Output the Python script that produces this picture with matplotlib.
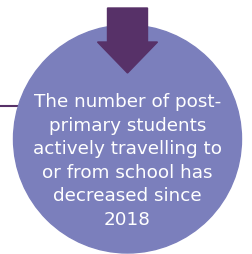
import matplotlib
matplotlib.use("Agg")
import matplotlib.pyplot as plt
from matplotlib.patches import Circle, FancyArrow

# text of the callout
text_lines = ["The number of post-", "primary students", "actively travelling to",
              "or from school has", "decreased since", "2018"]

circle_color = "#7b7fbc"
arrow_color = "#573168"

fig = plt.figure(figsize=(2.52, 2.54), dpi=100)
ax = fig.add_axes([0, 0, 1, 1])
ax.set_xlim(0, 252)
ax.set_ylim(254, 0)
ax.axis("off")

# connector line on the left
ax.plot([0, 30], [106, 106], color=arrow_color, lw=1.5, zorder=1, solid_capstyle="butt")

ax.add_patch(Circle((127.5, 139), 114, color=circle_color, zorder=2))

# down arrow
ax.add_patch(FancyArrow(127.5, 8, 0, 65, width=40, head_width=60, head_length=31,
                        length_includes_head=True, color=arrow_color, zorder=3))

ax.text(127.5, 161, "\n".join(text_lines), color="white", fontsize=13.2,
        family="DejaVu Sans", ha="center", va="center", linespacing=1.4, zorder=4)

fig.savefig("out.png", dpi=100)
